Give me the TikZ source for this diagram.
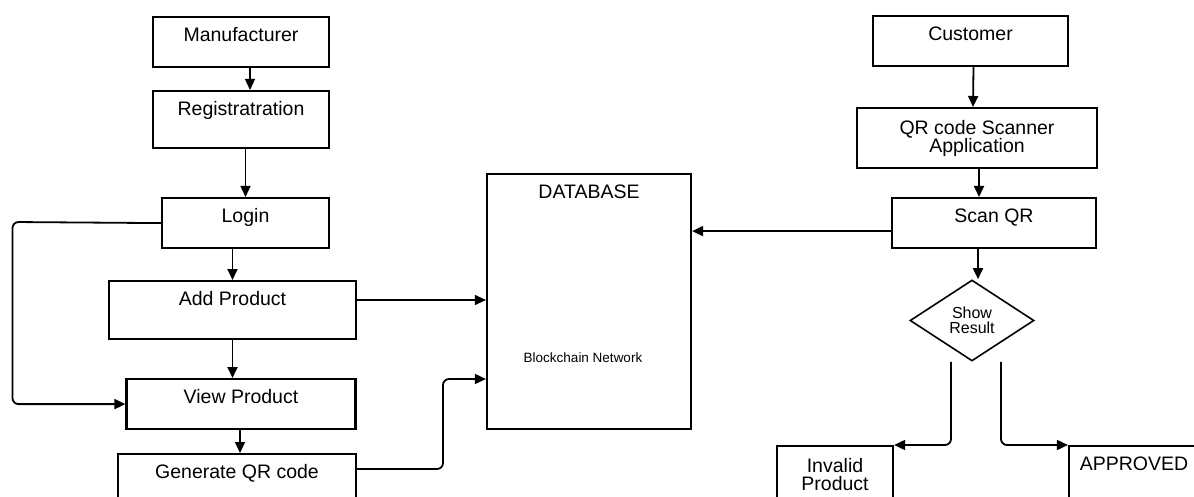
\documentclass[tikz,border=0pt]{standalone}
\usepackage{fontspec}
\setmainfont{Liberation Sans}
\usetikzlibrary{arrows.meta,shapes.geometric}

\begin{document}
\begin{tikzpicture}[x=1pt,y=-1pt,
  box/.style={draw, line width=2.2pt, inner sep=0pt, align=center, anchor=north, font=\fontsize{19.5}{18}\selectfont},
  topbox/.style={box, text height=24pt},
  arr/.style={-{Triangle[length=11pt,width=10pt]}, line width=1.8pt}]
\useasboundingbox (0,0) rectangle (1194,497);
\clip (0,0) rectangle (1194,497);

% manufacturer side
\node[topbox, minimum width=176pt, text depth=26pt] (man) at (241,16) {Manufacturer};
\node[topbox, minimum width=176pt, text depth=33pt] (reg) at (241,90) {Registratration};
\node[topbox, minimum width=167pt, text depth=26pt] (login) at (245.5,197) {Login};
\node[topbox, minimum width=247pt, text depth=34pt] (add) at (232.5,280) {Add Product};
\node[topbox, minimum width=229pt, text depth=26pt] (view) at (241,378) {View Product};
\node[topbox, minimum width=238pt, text depth=40pt] (gen) at (237,453) {Generate QR code};

% database
\node[topbox, minimum width=204pt, text depth=231pt] (db) at (589,173) {DATABASE};
\node[font=\fontsize{13.5}{15}\selectfont, anchor=base] (chain) at (583,362) {Blockchain Network};

% customer side
\node[topbox, minimum width=195pt, text depth=26pt] (cust) at (970.5,15) {Customer};
\node[box, minimum width=240pt, minimum height=60pt] (app) at (977,107) {QR code Scanner\\Application};
\node[topbox, minimum width=204pt, text depth=26pt] (scan) at (994,197) {Scan QR};
\node[diamond, draw, line width=1.6pt, inner sep=0pt, minimum width=124pt, minimum height=81pt, align=center, font=\fontsize{16}{15}\selectfont] (dia) at (972,320.5) {Show\\Result};
\node[box, minimum width=116pt, minimum height=56pt] (inv) at (835,445) {Invalid\\Product};
\node[topbox, minimum width=130pt, text depth=40pt] (ok) at (1134,445) {APPROVED};

\draw[arr, line width=1.3pt] ([xshift=9pt]man.south) -- ([xshift=9pt]reg.north);
\draw[arr, line width=1.3pt] (reg.south -| login.north) -- (login.north);
\draw[arr] (login.south -| add.north) -- (add.north);
\draw[arr] (add.south) -- (add.south |- view.north);
\draw[arr, line width=1.3pt] ([xshift=-1pt]view.south) -- ([xshift=3pt]gen.north);
\draw[arr, rounded corners=6pt] (login.west) -- (12.5,222) |- (view.west);
\draw[arr, line width=1.3pt] ([yshift=-20pt]add.north east) coordinate (a1) -- (a1 -| db.west);
\draw[arr, rounded corners=6pt] ([yshift=-16pt]gen.north east) -| (443,379) coordinate (g1) -- (g1 -| db.west);

\draw[arr] ([xshift=3pt]cust.south) -- ([xshift=-4pt]app.north);
\draw[arr] ([xshift=2pt]app.south) coordinate (c1) -- (c1 |- scan.north);
\draw[arr] ([yshift=-8pt]scan.west) coordinate (s1) -- (s1 -| db.east);
\draw[arr] ([xshift=-16pt]scan.south) -- ([xshift=6pt]dia.north);
\draw[arr, rounded corners=6pt] ([xshift=-21pt]dia.south) |- (inv.north east);
\draw[arr, rounded corners=6pt] ([xshift=29pt]dia.south) |- (ok.north west);
\end{tikzpicture}
\end{document}
